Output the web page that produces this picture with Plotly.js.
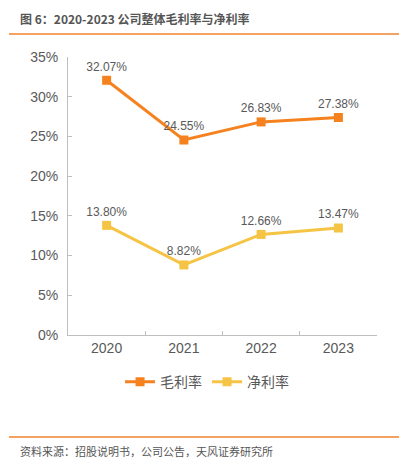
<!DOCTYPE html>
<html><head><meta charset="utf-8">
<script src="https://cdn.plot.ly/plotly-3.0.1.min.js"></script>
<style>html,body{margin:0;padding:0;background:#fff}#c{width:399px;height:462px}</style>
</head><body><div id="c"></div>
<script>
const years = ['2020','2021','2022','2023'];
const grossMargin = [32.07, 24.55, 26.83, 27.38];
const netMargin = [13.80, 8.82, 12.66, 13.47];
const seriesNames = ['毛利率','净利率'];
const yTicks = [0,5,10,15,20,25,30,35];

const numFont = 'Liberation Sans, Arial, sans-serif';
const cjkFont = '"Noto Sans CJK SC", sans-serif';
const colors = ['#F5821F','#F6C444'];

function trace(vals, name, color){
  return {
    x: years, y: vals, name: name, type:'scatter', mode:'lines+markers+text',
    line:{color:color, width:3},
    marker:{symbol:'square', size:9, color:color},
    text: vals.map(v=>v.toFixed(2)+'%'),
    textposition:'top center',
    textfont:{family:numFont, size:12, color:'#595959'},
    cliponaxis:false
  };
}

const data = [trace(grossMargin, seriesNames[0], colors[0]), trace(netMargin, seriesNames[1], colors[1])];

const layout = {
  width:399, height:462,
  margin:{l:68, r:22, t:57, b:127},
  paper_bgcolor:'#fff', plot_bgcolor:'#fff',
  showlegend:true,
  xaxis:{type:'category', range:[-0.5,3.5], showline:true, linecolor:'#BFBFBF', linewidth:1,
    ticks:'inside', ticklen:4, tickcolor:'#BFBFBF', tickson:'boundaries', showgrid:false, zeroline:false,
    tickfont:{family:numFont, size:14, color:'#595959'}, fixedrange:true},
  yaxis:{range:[0,35], tickvals:yTicks, ticktext:yTicks.map(v=>v+'%'), showline:true, linecolor:'#BFBFBF', linewidth:1,
    ticks:'inside', ticklen:4, tickcolor:'#BFBFBF', showgrid:false, zeroline:false, ticklabelstandoff:6,
    tickfont:{family:numFont, size:14, color:'#595959'}},
  legend:{orientation:'h', x:0.45, xanchor:'center', y:-0.17, yanchor:'middle', yref:'paper',
    font:{family:cjkFont, size:14, color:'#595959'}, itemwidth:30, tracegroupgap:0},
  annotations:[
    {xref:'paper', yref:'paper', x:(18-68)/309, y:1+(57-19)/278, xanchor:'left', yanchor:'middle', showarrow:false,
     text:'<b>图 6：2020-2023 公司整体毛利率与净利率</b>', font:{family:cjkFont, size:12, color:'#555555'}},
    {xref:'paper', yref:'paper', x:(18-68)/309, y:-(451-335)/278, xanchor:'left', yanchor:'middle', showarrow:false,
     text:'资料来源：招股说明书，公司公告，天风证券研究所', font:{family:cjkFont, size:11, color:'#555555'}}
  ],
  shapes:[
    {type:'line', xref:'paper', yref:'paper', x0:-59/309, x1:331/309, y0:1+(57-34)/278, y1:1+(57-34)/278, line:{color:'#F4A262', width:2}},
    {type:'line', xref:'paper', yref:'paper', x0:-59/309, x1:331/309, y0:-(437-335)/278, y1:-(437-335)/278, line:{color:'#F4A262', width:2}}
  ]
};
Plotly.newPlot('c', data, layout, {displayModeBar:false, staticPlot:true});
</script></body></html>
